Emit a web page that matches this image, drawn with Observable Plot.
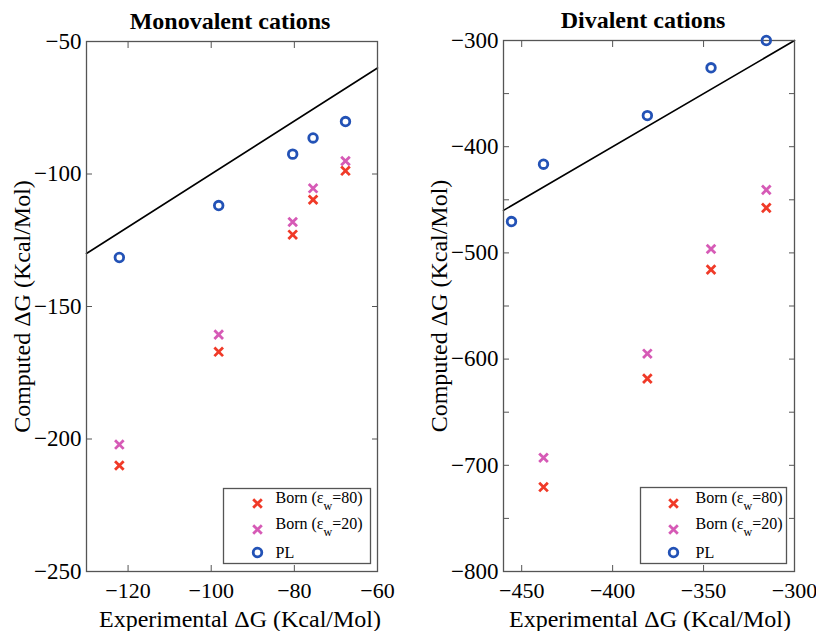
<!DOCTYPE html>
<html>
<head>
<meta charset="utf-8">
<script src="https://cdn.jsdelivr.net/npm/d3@7"></script>
<script src="https://cdn.jsdelivr.net/npm/@observablehq/plot@0.6"></script>
<style>
  html, body { margin: 0; padding: 0; background: #fff; }
  #wrap { display: flex; width: 816px; height: 631px; }
  #wrap > div { width: 408px; height: 631px; }
</style>
</head>
<body>
<div id="wrap"><div id="left"></div><div id="right"></div></div>
<script>
// ---- Data ----
const seriesNames = ["Born (ε_w=80)", "Born (ε_w=20)", "PL"];

const monoTitle = "Monovalent cations";
const monoExp    = [-122.1, -98.2, -80.4, -75.5, -67.7];
const monoPL     = [-131.5, -111.9, -92.5, -86.4, -80.2];
const monoBorn80 = [-210.0, -167.1, -122.9, -109.7, -98.8];
const monoBorn20 = [-202.1, -160.6, -118.1, -105.4, -95.1];
const monoXDomain = [-130, -60];
const monoYDomain = [-250, -50];
const monoXTicks = [-120, -100, -80, -60];
const monoYTicks = [-250, -200, -150, -100, -50];
const monoYTickMarks = [-250, -200, -150, -100, -50];

const divTitle = "Divalent cations";
const divExp    = [-455.6, -438.0, -380.9, -345.9, -315.5];
const divPL     = [-470.5, -416.5, -370.7, -325.7, -300.0];
const divBorn80 = [null, -720.5, -618.4, -515.7, -457.6];
const divBorn20 = [null, -692.9, -594.9, -496.3, -440.7];
const divXDomain = [-460, -300];
const divYDomain = [-800, -300];
const divXTicks = [-450, -400, -350, -300];
const divYTicks = [-800, -700, -600, -500, -400, -300];
const divYTickMarks = [-800, -750, -700, -650, -600, -550, -500, -450, -400, -350, -300];

const xLabel = "Experimental ΔG (Kcal/Mol)";
const yLabel = "Computed ΔG (Kcal/Mol)";

const colors = { born80: "#f03a28", born20: "#d65ab6", pl: "#2352b6" };
const frameColor = "#555";

function rows(exp, vals) {
  return exp.map((x, i) => ({ x, y: vals[i] })).filter(d => d.y != null);
}

function panel(cfg) {
  const legendRows = [
    { name: seriesNames[0], color: colors.born80, symbol: "times", dy: -68, ty: -69 },
    { name: seriesNames[1], color: colors.born20, symbol: "times", dy: -42, ty: -43 },
    { name: seriesNames[2], color: colors.pl, symbol: "circle", dy: -19, ty: -14 }
  ];
  const crossOpts = { x: "x", y: "y", symbol: "times", r: 4, strokeWidth: 2.8 };
  const marks = [
    Plot.line(cfg.xDomain, { x: d => d, y: d => d, stroke: "#000", strokeWidth: 1.6 }),
    Plot.frame({ stroke: frameColor, strokeWidth: 1.3 }),
    Plot.axisX(cfg.xTicks, { tickSize: -6, fill: "none", stroke: frameColor, label: null }),
    Plot.axisX(cfg.xTicks, { anchor: "top", tickSize: -6, fill: "none", stroke: frameColor, label: null }),
    Plot.axisY(cfg.yTickMarks, { tickSize: -6, fill: "none", stroke: frameColor, label: null }),
    Plot.axisY(cfg.yTickMarks, { anchor: "right", tickSize: -6, fill: "none", stroke: frameColor, label: null }),
    Plot.axisX(cfg.xTicks, { tickSize: 0, tickPadding: 11, label: null, fontSize: 22 }),
    Plot.axisY(cfg.yTicks, { tickSize: 0, tickPadding: 5, label: null, fontSize: 23 }),
    Plot.dot(rows(cfg.exp, cfg.born80), { ...crossOpts, stroke: colors.born80 }),
    Plot.dot(rows(cfg.exp, cfg.born20), { ...crossOpts, stroke: colors.born20 }),
    Plot.dot(rows(cfg.exp, cfg.pl), { x: "x", y: "y", symbol: "circle", r: 4.3, stroke: colors.pl, strokeWidth: 2.8 }),
    Plot.text([cfg.title], { frameAnchor: "top", dy: -13, dx: cfg.titleDx, textAnchor: "middle", lineAnchor: "bottom", fontWeight: "bold", fontSize: 24 }),
    Plot.text([xLabel], { frameAnchor: "bottom", dy: 55, dx: cfg.xLabelDx, textAnchor: "middle", lineAnchor: "bottom", fontSize: 24 }),
    Plot.text([yLabel], { frameAnchor: "left", dx: -57, rotate: -90, textAnchor: "middle", lineAnchor: "bottom", fontSize: 24 }),
    Plot.frame({ insetLeft: 137, insetRight: cfg.legendInsetRight, insetTop: 447, insetBottom: 8, stroke: frameColor, strokeWidth: 1.3, fill: "#fff" })
  ];
  for (const r of legendRows) {
    marks.push(Plot.dot([r.name], {
      frameAnchor: "bottom-right", dx: cfg.legendMarkerDx, dy: r.dy,
      symbol: r.symbol, r: r.symbol === "circle" ? 4.3 : 4, stroke: r.color, strokeWidth: 2.8
    }));
    marks.push(Plot.text([r.name], {
      frameAnchor: "bottom-right", dx: cfg.legendTextDx, dy: r.ty,
      textAnchor: "start", lineAnchor: "bottom", fontSize: 16
    }));
  }
  const svg = Plot.plot({
    width: 408,
    height: 631,
    marginLeft: cfg.marginLeft,
    marginRight: cfg.marginRight,
    marginTop: cfg.marginTop,
    marginBottom: 60,
    style: { fontFamily: "'Liberation Serif', 'Times New Roman', serif", color: "#000", background: "#fff", overflow: "visible" },
    x: { domain: cfg.xDomain },
    y: { domain: cfg.yDomain },
    marks
  });
  // subscript "w" in the legend labels
  svg.querySelectorAll("text").forEach(t => {
    const s = t.textContent;
    if (s.includes("_w")) {
      const [a, b] = s.split("_w");
      t.textContent = "";
      t.appendChild(document.createTextNode(a));
      const sub = document.createElementNS("http://www.w3.org/2000/svg", "tspan");
      sub.setAttribute("dy", "7");
      sub.setAttribute("font-size", "12");
      sub.textContent = "w";
      t.appendChild(sub);
      const rest = document.createElementNS("http://www.w3.org/2000/svg", "tspan");
      rest.setAttribute("dy", "-7");
      rest.textContent = b;
      t.appendChild(rest);
    }
  });
  return svg;
}

document.getElementById("left").appendChild(panel({
  title: monoTitle, exp: monoExp, pl: monoPL, born80: monoBorn80, born20: monoBorn20,
  xDomain: monoXDomain, yDomain: monoYDomain, xTicks: monoXTicks, yTicks: monoYTicks, yTickMarks: monoYTickMarks,
  marginLeft: 86, marginRight: 31, marginTop: 41, titleDx: -2, xLabelDx: 8,
  legendInsetRight: 7, legendMarkerDx: -120, legendTextDx: -102
}));
document.getElementById("right").appendChild(panel({
  title: divTitle, exp: divExp, pl: divPL, born80: divBorn80, born20: divBorn20,
  xDomain: divXDomain, yDomain: divYDomain, xTicks: divXTicks, yTicks: divYTicks, yTickMarks: divYTickMarks,
  marginLeft: 95, marginRight: 22, marginTop: 40, titleDx: -6, xLabelDx: 1,
  legendInsetRight: 8, legendMarkerDx: -121, legendTextDx: -99
}));
</script>
</body>
</html>
